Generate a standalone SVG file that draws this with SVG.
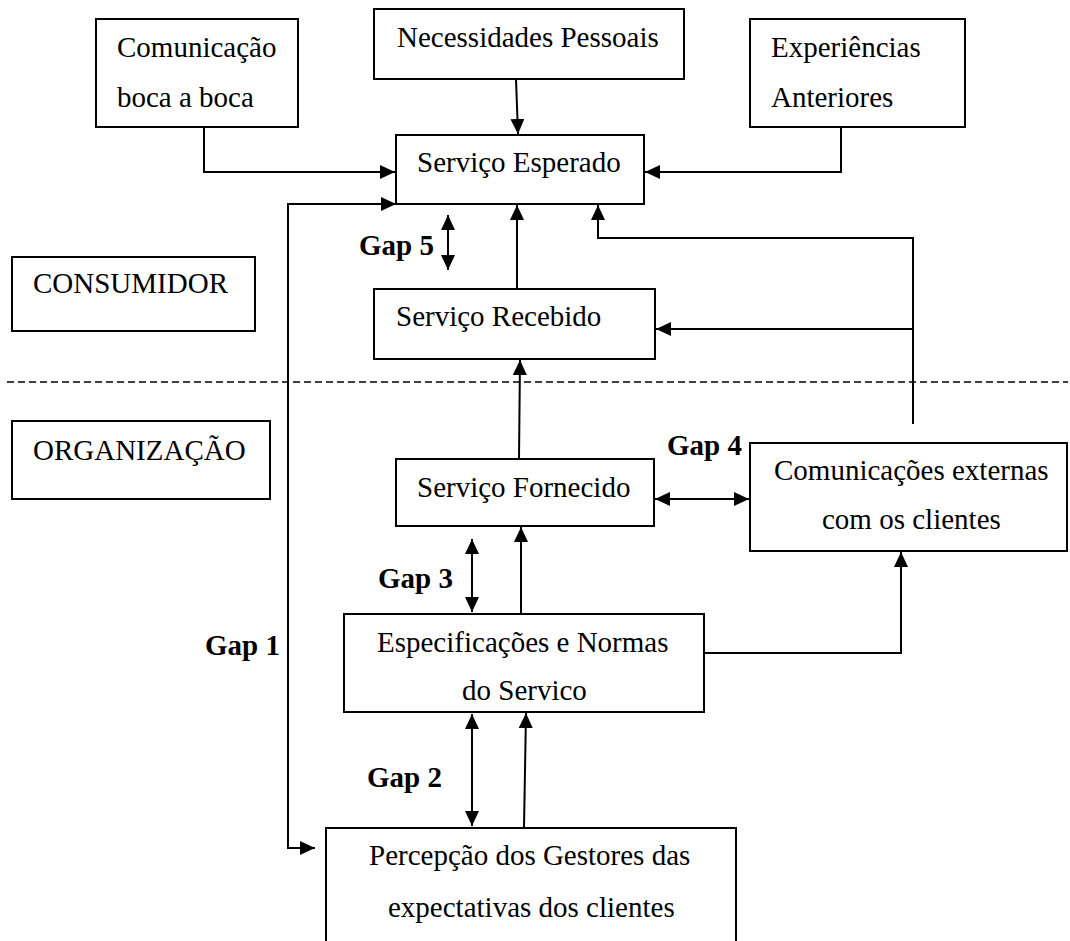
<svg xmlns="http://www.w3.org/2000/svg" width="1070" height="941" viewBox="0 0 1070 941">
  <style>
    .box { fill: #ffffff; stroke: #000000; stroke-width: 2; }
    .lbl { font-family: "Liberation Serif", "Times New Roman", serif; font-size: 29px; fill: #000000; }
    .gap { font-family: "Liberation Serif", "Times New Roman", serif; font-size: 29px; font-weight: bold; fill: #000000; }
    .wire { fill: none; stroke: #000000; stroke-width: 2; }
    .arrow { marker-end: url(#head); }
    .both { marker-start: url(#head); marker-end: url(#head); }
    .divider { fill: none; stroke: #000000; stroke-width: 1.5; stroke-dasharray: 7 4; }
  </style>
  <defs>
    <marker id="head" markerUnits="userSpaceOnUse" markerWidth="16" markerHeight="14" refX="15" refY="7" orient="auto-start-reverse">
      <path d="M0,0 L15,7 L0,14 z" fill="#000000"/>
    </marker>
  </defs>
  <rect width="1070" height="941" fill="#ffffff"/>

  <!-- consumer / organisation divider -->
  <line class="divider" x1="7" y1="382" x2="1068" y2="382"/>

  <!-- connectors -->
  <g id="connectors">
    <polyline class="wire arrow" points="204,127 204,172 395,172"/>
    <line class="wire arrow" x1="516" y1="79" x2="518" y2="134"/>
    <polyline class="wire arrow" points="841,127 841,172 645,172"/>
    <path class="wire both" d="M315,848 H288 V204 H396"/>
    <line class="wire both" x1="448" y1="215" x2="448" y2="270"/>
    <line class="wire arrow" x1="517" y1="289" x2="517" y2="205"/>
    <polyline class="wire arrow" points="913,424 913,238 598,238 598,205"/>
    <line class="wire arrow" x1="913" y1="329" x2="656" y2="329"/>
    <line class="wire arrow" x1="519" y1="458" x2="520" y2="360"/>
    <line class="wire both" x1="655" y1="499" x2="749" y2="499"/>
    <line class="wire both" x1="472" y1="539" x2="472" y2="612"/>
    <line class="wire arrow" x1="521" y1="613" x2="521" y2="527"/>
    <polyline class="wire arrow" points="704,653 901,653 901,552"/>
    <line class="wire both" x1="472" y1="714" x2="472" y2="826"/>
    <line class="wire arrow" x1="524" y1="828" x2="526" y2="713"/>
  </g>

  <!-- gap labels -->
  <g id="gap-labels">
    <text class="gap" x="359" y="255">Gap 5</text>
    <text class="gap" x="667" y="455">Gap 4</text>
    <text class="gap" x="378" y="588">Gap 3</text>
    <text class="gap" x="205" y="655">Gap 1</text>
    <text class="gap" x="367" y="787">Gap 2</text>
  </g>

  <g id="comunicacao">
    <rect class="box" x="96" y="19" width="202" height="108"/>
    <text class="lbl" x="117" y="57">Comunicação</text>
    <text class="lbl" x="117" y="107">boca a boca</text>
  </g>

  <g id="necessidades">
    <rect class="box" x="374" y="9" width="310" height="70"/>
    <text class="lbl" x="397" y="47">Necessidades Pessoais</text>
  </g>

  <g id="experiencias">
    <rect class="box" x="750" y="19" width="215" height="108"/>
    <text class="lbl" x="771" y="57">Experiências</text>
    <text class="lbl" x="771" y="107">Anteriores</text>
  </g>

  <g id="servico-esperado">
    <rect class="box" x="396" y="135" width="248" height="69"/>
    <text class="lbl" x="417" y="172">Serviço Esperado</text>
  </g>

  <g id="consumidor">
    <rect class="box" x="12" y="257" width="243" height="74"/>
    <text class="lbl" x="33" y="293">CONSUMIDOR</text>
  </g>

  <g id="servico-recebido">
    <rect class="box" x="374" y="289" width="281" height="70"/>
    <text class="lbl" x="396" y="326">Serviço Recebido</text>
  </g>

  <g id="organizacao">
    <rect class="box" x="12" y="421" width="258" height="78"/>
    <text class="lbl" x="33" y="460">ORGANIZAÇÃO</text>
  </g>

  <g id="servico-fornecido">
    <rect class="box" x="396" y="459" width="258" height="67"/>
    <text class="lbl" x="417" y="497">Serviço Fornecido</text>
  </g>

  <g id="comunicacoes-externas">
    <rect class="box" x="750" y="443" width="317" height="108"/>
    <text class="lbl" x="774" y="480">Comunicações externas</text>
    <text class="lbl" x="822" y="529">com os clientes</text>
  </g>

  <g id="especificacoes">
    <rect class="box" x="344" y="614" width="360" height="98"/>
    <text class="lbl" x="377" y="652">Especificações e Normas</text>
    <text class="lbl" x="462" y="700">do Servico</text>
  </g>

  <g id="percepcao">
    <path class="box" d="M326,945 V828 H736 V945"/>
    <text class="lbl" x="369" y="865">Percepção dos Gestores das</text>
    <text class="lbl" x="388" y="917">expectativas dos clientes</text>
  </g>
</svg>
